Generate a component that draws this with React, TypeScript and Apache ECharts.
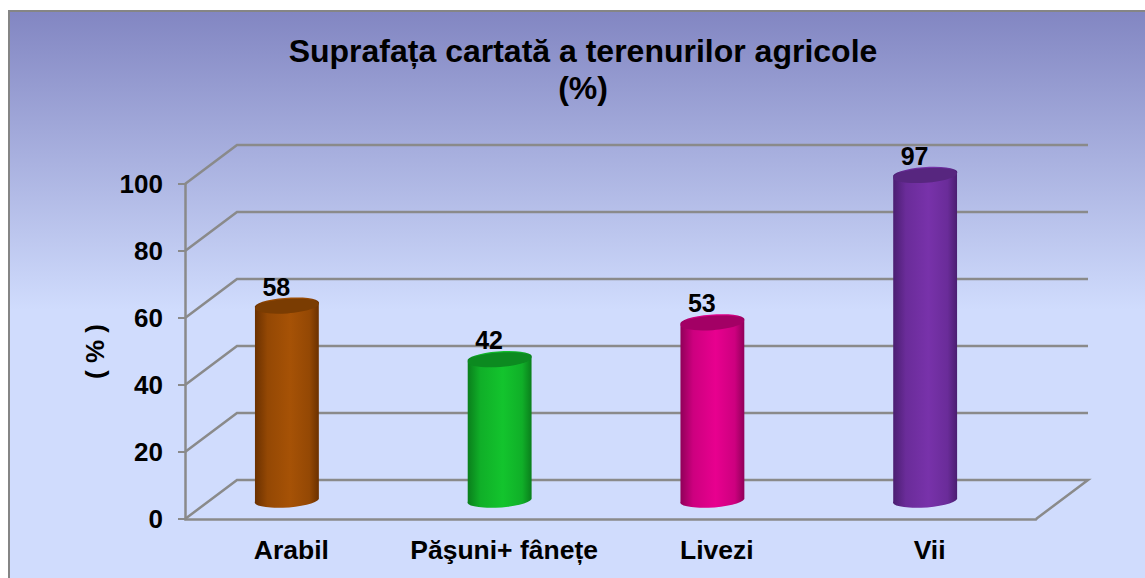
import React, { useEffect, useRef } from "react";
import * as echarts from "echarts";

const titleText = "Suprafața cartată a terenurilor agricole\n(%)";
const yAxisName = "( % )";
const categories = ["Arabil", "Păşuni+ fâneţe".replace("ţ", "ț"), "Livezi", "Vii"];
const values = [58, 42, 53, 97];
const gridValues = [0, 20, 40, 60, 80, 100];
const bright = ["#A65206", "#13C42D", "#E8008F", "#7832AA"];
const dark = ["#6A3000", "#0A7E1C", "#8F0058", "#4A1E70"];
const capColor = ["#7A3C02", "#0C8A20", "#A30065", "#57267F"];

const FONT = "Liberation Sans";
const DEPTH_X = 52;
const DEPTH_Y = 39;
const GRID_COLOR = "#8A8A8A";
const LINE_W = 2.5;

export default function App() {
  const ref = useRef<HTMLDivElement>(null);
  useEffect(() => {
    const chart = echarts.init(ref.current!, null, { renderer: "svg" });
    chart.setOption({
      animation: false,
      graphic: {
        elements: [
          {
            type: "rect",
            z: -10,
            silent: true,
            shape: { x: 9, y: 11, width: 1145, height: 575 },
            style: {
              stroke: "#858585",
              lineWidth: 2,
              fill: new echarts.graphic.LinearGradient(0, 0, 0, 1, [
                { offset: 0, color: "#8286C2" },
                { offset: 0.52, color: "#D0DCFD" },
                { offset: 1, color: "#D0DCFD" },
              ]),
            },
          },
        ],
      },
      title: {
        text: titleText,
        left: 578,
        top: 27,
        textAlign: "center",
        textStyle: {
          fontFamily: FONT,
          fontWeight: "bold",
          fontSize: 32,
          lineHeight: 37,
          color: "#000",
        },
      },
      grid: { left: 185, right: 109, top: 184, bottom: 59 },
      xAxis: {
        type: "category",
        data: categories,
        axisTick: { show: false },
        axisLine: { lineStyle: { color: GRID_COLOR, width: LINE_W } },
        axisLabel: {
          margin: 17,
          fontFamily: FONT,
          fontWeight: "bold",
          fontSize: 26.5,
          color: "#000",
          interval: 0,
        },
      },
      yAxis: {
        type: "value",
        min: 0,
        max: 100,
        interval: 20,
        name: yAxisName,
        nameLocation: "middle",
        nameRotate: 90,
        nameGap: 77,
        nameTextStyle: {
          fontFamily: FONT,
          fontWeight: "bold",
          fontSize: 26,
          color: "#000",
        },
        splitLine: { show: false },
        axisLine: { show: true, lineStyle: { color: GRID_COLOR, width: LINE_W } },
        axisTick: { show: true, length: 7, lineStyle: { color: GRID_COLOR, width: 2 } },
        axisLabel: {
          margin: 22,
          fontFamily: FONT,
          fontWeight: "bold",
          fontSize: 26,
          color: "#000",
        },
      },
      series: [
        {
          type: "custom",
          coordinateSystem: "cartesian2d",
          silent: true,
          z: 1,
          clip: false,
          data: gridValues.map((v) => [0, v]),
          encode: { y: 1 },
          renderItem: (_p: any, api: any) => {
            const [xs, ys] = api.coord([0, api.value(1)]);
            const band = api.size([1, 0])[0];
            const xe = xs - band / 2 + band * categories.length;
            const x0 = xs - band / 2;
            const style = { stroke: GRID_COLOR, lineWidth: LINE_W, fill: null };
            const points = [
              [x0, ys],
              [x0 + DEPTH_X, ys - DEPTH_Y],
              [xe + DEPTH_X, ys - DEPTH_Y],
            ];
            if (api.value(1) === 0) points.push([xe, ys]);
            return { type: "polyline", shape: { points }, style };
          },
        },
        {
          type: "custom",
          coordinateSystem: "cartesian2d",
          silent: true,
          z: 3,
          clip: false,
          data: values.map((v, i) => [i, v]),
          encode: { x: 0, y: 1 },
          renderItem: (_p: any, api: any) => {
            const i = api.value(0);
            const band = api.size([1, 0])[0];
            const [cx0, topY0] = api.coord([i, api.value(1)]);
            const [, baseY0] = api.coord([i, 0]);
            const cx = cx0 - 4.5;
            const topY = topY0 - DEPTH_Y / 2 + 1;
            const baseY = baseY0 - DEPTH_Y / 2 - 0.5;
            const rx = band * 0.15;
            const ry = 7.2;
            const tilt = 2.4;
            const rot = -4.3;
            const d =
              `M ${cx - rx} ${topY + tilt} ` +
              `L ${cx - rx} ${baseY + tilt} ` +
              `A ${rx} ${ry} ${rot} 0 0 ${cx + rx} ${baseY - tilt} ` +
              `L ${cx + rx} ${topY - tilt} ` +
              `A ${rx} ${ry} ${rot} 0 0 ${cx - rx} ${topY + tilt} Z`;
            const mid = echarts.color.lerp(0.7, [dark[i], bright[i]]);
            return {
              type: "group",
              children: [
                {
                  type: "path",
                  shape: { pathData: d },
                  style: {
                    fill: new echarts.graphic.LinearGradient(0, 0, 1, 0, [
                      { offset: 0, color: dark[i] },
                      { offset: 0.2, color: mid },
                      { offset: 0.55, color: bright[i] },
                      { offset: 0.85, color: mid },
                      { offset: 1, color: dark[i] },
                    ]),
                  },
                },
                {
                  type: "ellipse",
                  x: cx,
                  y: topY,
                  rotation: (-rot * Math.PI) / 180,
                  shape: { cx: 0, cy: 0, rx, ry },
                  style: { fill: capColor[i] },
                },
                {
                  type: "text",
                  x: cx - 10.5,
                  y: topY - 19.5,
                  style: {
                    text: String(api.value(1)),
                    fontFamily: FONT,
                    fontWeight: "bold",
                    fontSize: 25,
                    fill: "#000",
                    align: "center",
                    verticalAlign: "middle",
                  },
                },
              ],
            };
          },
        },
      ],
    });
    return () => chart.dispose();
  }, []);
  return (
    <div
      ref={ref}
      style={{ position: "fixed", left: 0, top: 0, width: 1145, height: 578, background: "#fff" }}
    />
  );
}
